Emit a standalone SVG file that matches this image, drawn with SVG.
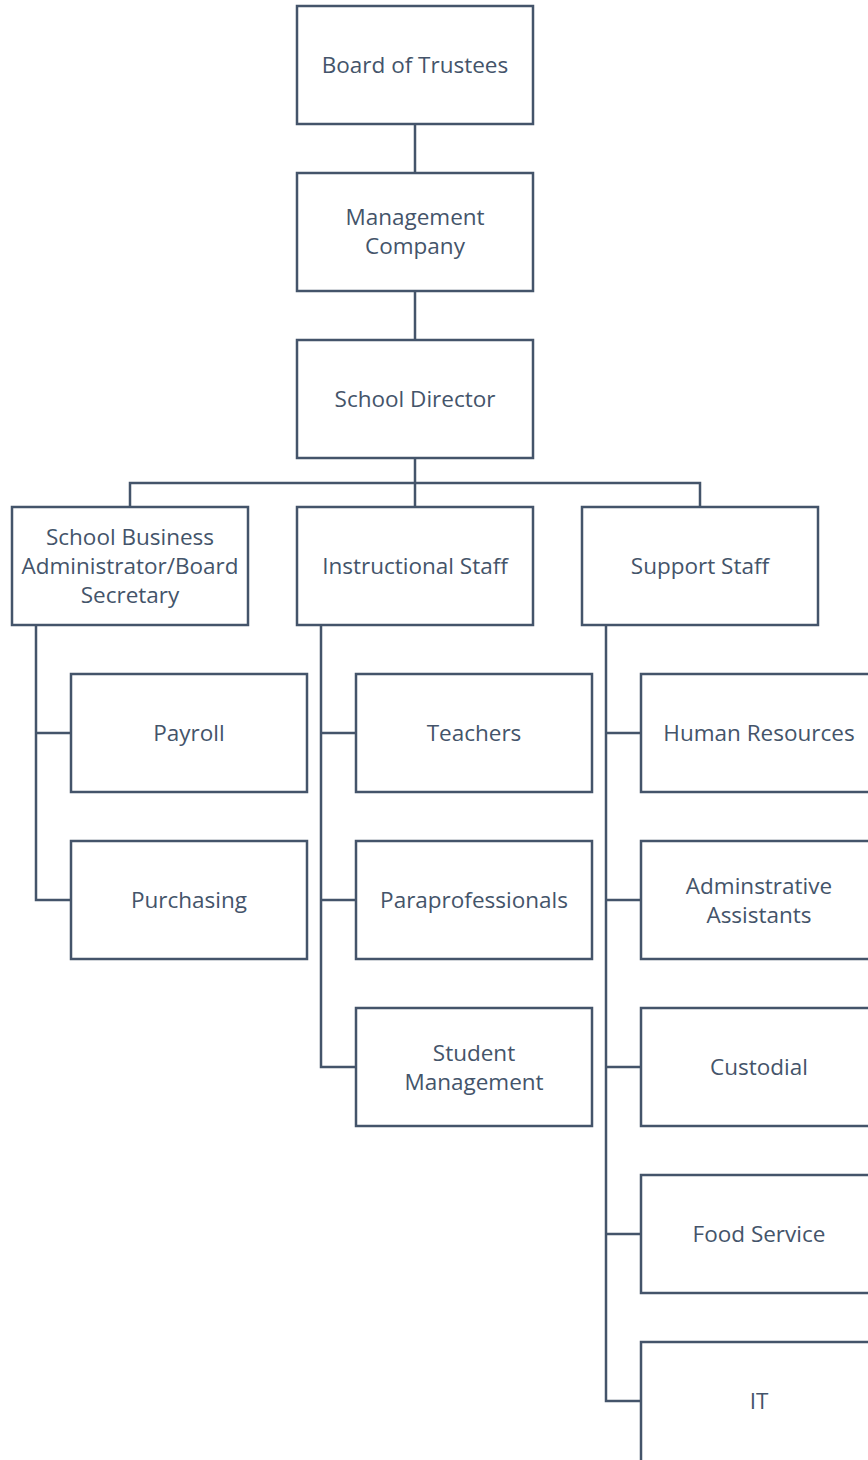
<svg xmlns="http://www.w3.org/2000/svg" width="868" height="1460" viewBox="0 0 868 1460">
<style>
.box{fill:#fff;stroke:#44546A;stroke-width:2.5}
.lbl{font-family:"Open Sans","Noto Sans",sans-serif;font-size:22.5px;fill:#44546A;text-anchor:middle;dominant-baseline:central}
.con{fill:none;stroke:#44546A;stroke-width:2.5}
</style>
<rect width="868" height="1460" fill="#fff"/>
<g id="connectors">
<path class="con" d="M415 124V173M415 291V340M415 458V483M130 507V483H700V507M415 483V507"/>
<path class="con" d="M36 625V900H71M36 733H71"/>
<path class="con" d="M321 625V1067H356M321 733H356M321 900H356"/>
<path class="con" d="M606 625V1401H641M606 733H641M606 900H641M606 1067H641M606 1234H641"/>
</g>
<g id="board"><rect class="box" x="297" y="6" width="236" height="118"/><text class="lbl" x="415" y="64">Board of Trustees</text></g>
<g id="mgmt"><rect class="box" x="297" y="173" width="236" height="118"/><text class="lbl" x="415" y="216">Management</text><text class="lbl" x="415" y="245">Company</text></g>
<g id="director"><rect class="box" x="297" y="340" width="236" height="118"/><text class="lbl" x="415" y="398">School Director</text></g>
<g id="sba"><rect class="box" x="12" y="507" width="236" height="118"/><text class="lbl" x="130" y="536">School Business</text><text class="lbl" x="130" y="565">Administrator/Board</text><text class="lbl" x="130" y="594">Secretary</text></g>
<g id="instr"><rect class="box" x="297" y="507" width="236" height="118"/><text class="lbl" x="415" y="565">Instructional Staff</text></g>
<g id="support"><rect class="box" x="582" y="507" width="236" height="118"/><text class="lbl" x="700" y="565">Support Staff</text></g>
<g id="payroll"><rect class="box" x="71" y="674" width="236" height="118"/><text class="lbl" x="189" y="732">Payroll</text></g>
<g id="purchasing"><rect class="box" x="71" y="841" width="236" height="118"/><text class="lbl" x="189" y="899">Purchasing</text></g>
<g id="teachers"><rect class="box" x="356" y="674" width="236" height="118"/><text class="lbl" x="474" y="732">Teachers</text></g>
<g id="para"><rect class="box" x="356" y="841" width="236" height="118"/><text class="lbl" x="474" y="899">Paraprofessionals</text></g>
<g id="student"><rect class="box" x="356" y="1008" width="236" height="118"/><text class="lbl" x="474" y="1052">Student</text><text class="lbl" x="474" y="1081">Management</text></g>
<g id="hr"><rect class="box" x="641" y="674" width="236" height="118"/><text class="lbl" x="759" y="732">Human Resources</text></g>
<g id="admin"><rect class="box" x="641" y="841" width="236" height="118"/><text class="lbl" x="759" y="885">Adminstrative</text><text class="lbl" x="759" y="914">Assistants</text></g>
<g id="custodial"><rect class="box" x="641" y="1008" width="236" height="118"/><text class="lbl" x="759" y="1066">Custodial</text></g>
<g id="food"><rect class="box" x="641" y="1175" width="236" height="118"/><text class="lbl" x="759" y="1233">Food Service</text></g>
<g id="it"><rect class="box" x="641" y="1342" width="236" height="120"/><text class="lbl" x="759" y="1400">IT</text></g>
</svg>
